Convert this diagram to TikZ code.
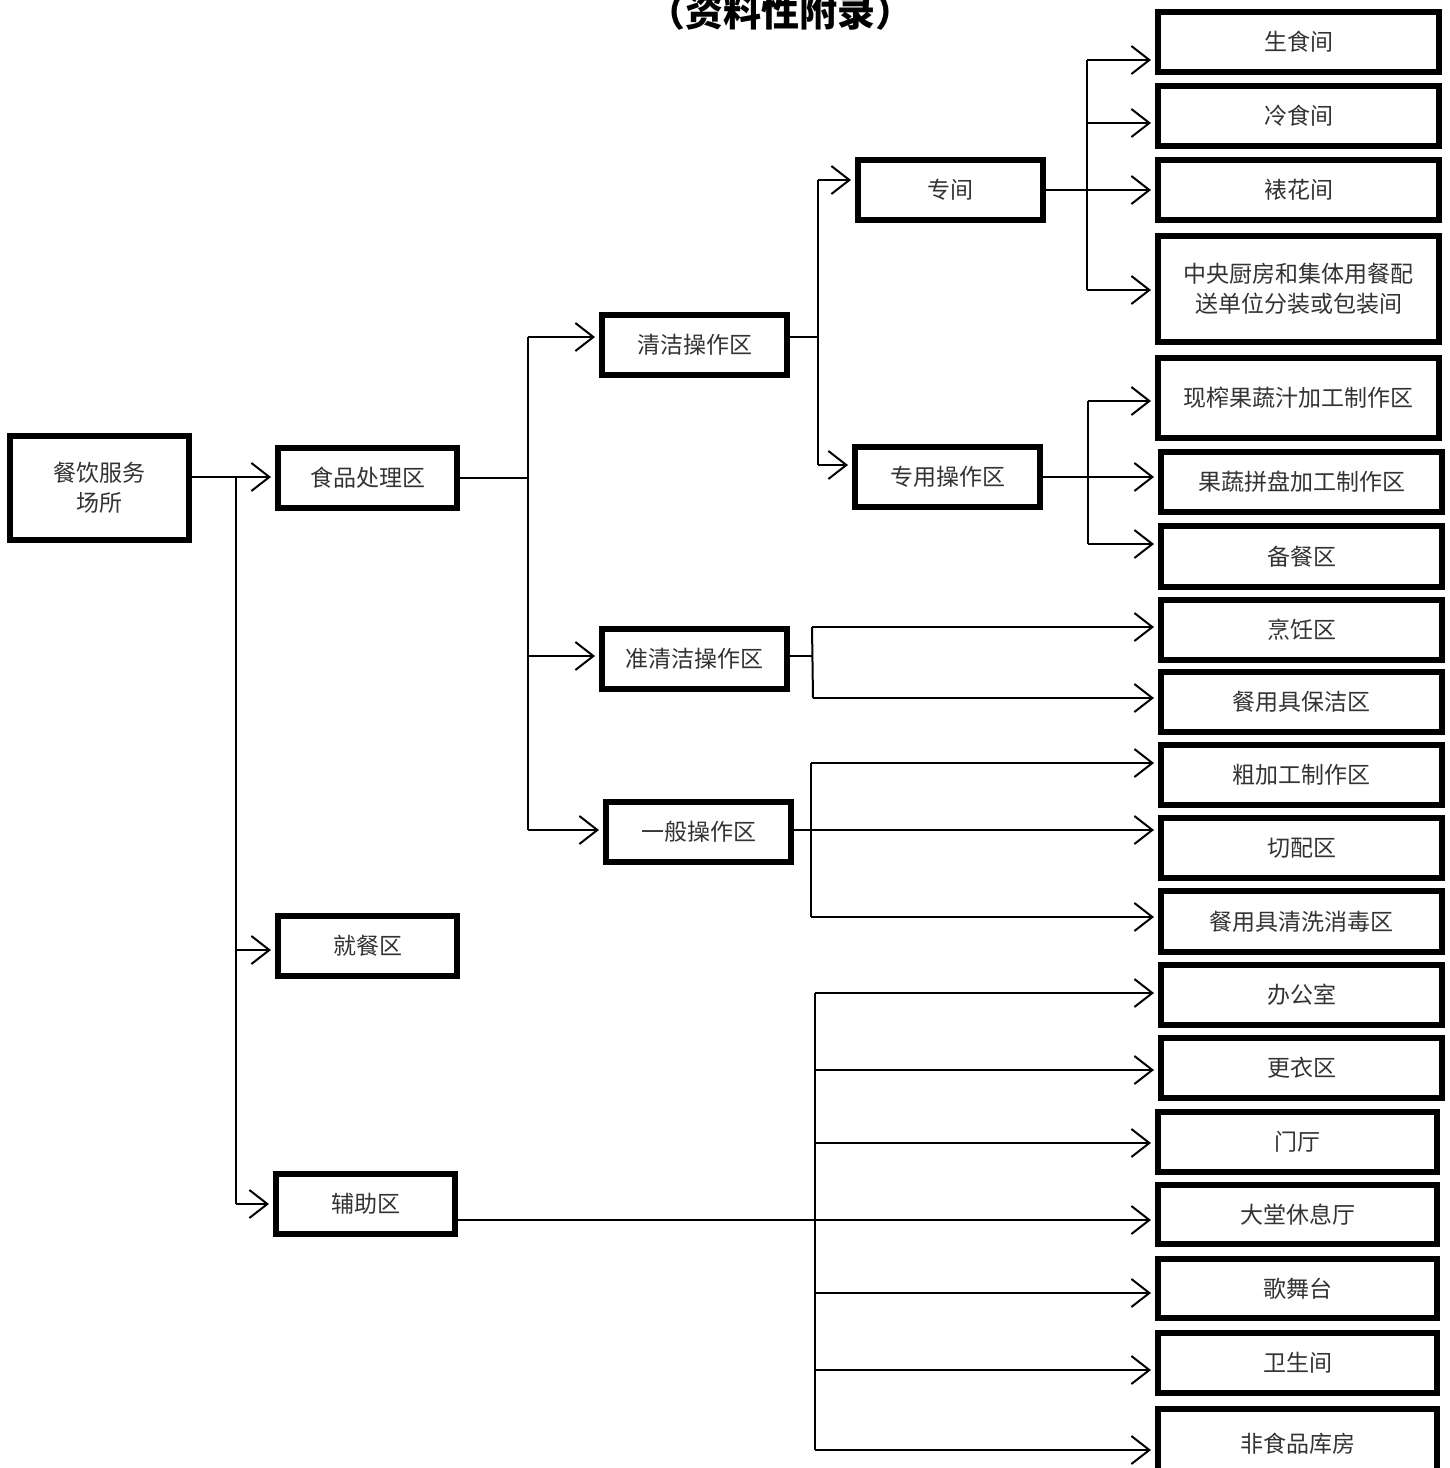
\documentclass[tikz,border=0pt]{standalone}
\usepackage{fontspec}
\newfontfamily\cjk{Noto Sans CJK SC}
\usetikzlibrary{arrows.meta}
\tikzset{
  box/.style={draw=black, line width=3pt, inner sep=0pt, align=center, text=black!80, font=\cjk\fontsize{11.5}{15}\selectfont},
  conn/.style={line width=1pt, draw=black},
  arr/.style={conn, -{Straight Barb[length=9pt,width=14pt,line width=1pt]}, shorten >=2pt}
}
\newcommand\mybox[6]{\node[box, minimum width={(#4-#2-6)*0.5pt}, minimum height={(#5-#3-6)*0.5pt}] (#1) at ({(#2+#4)/2},{(#3+#5)/2}) {#6};}
\begin{document}
\begin{tikzpicture}[x=0.5pt,y=-0.5pt]
\useasboundingbox (0,0) rectangle (1450,1468);
\fill[white] (0,0) rectangle (1450,1468);
\node[font=\cjk\bfseries\fontsize{19}{22}\selectfont, inner sep=0pt] (title) at (780,12) {（资料性附录）};
\mybox{can}{7}{433}{192}{543}{餐饮服务\\场所}
\mybox{shipin}{275}{445}{460}{511}{食品处理区}
\mybox{jiucan}{275}{913}{460}{979}{就餐区}
\mybox{fuzhu}{273}{1171}{458}{1237}{辅助区}
\mybox{qingjie}{599}{312}{790}{378}{清洁操作区}
\mybox{zhun}{599}{626}{790}{692}{准清洁操作区}
\mybox{yiban}{603}{799}{794}{865}{一般操作区}
\mybox{zhuanjian}{855}{157}{1046}{223}{专间}
\mybox{zhuanyong}{852}{444}{1043}{510}{专用操作区}
\mybox{r1}{1155}{9}{1442}{75}{生食间}
\mybox{r2}{1155}{83}{1442}{149}{冷食间}
\mybox{r3}{1155}{157}{1442}{223}{裱花间}
\mybox{r4}{1155}{233}{1442}{345}{中央厨房和集体用餐配\\送单位分装或包装间}
\mybox{r5}{1155}{355}{1442}{441}{现榨果蔬汁加工制作区}
\mybox{r6}{1158}{449}{1445}{515}{果蔬拼盘加工制作区}
\mybox{r7}{1158}{523}{1445}{590}{备餐区}
\mybox{r8}{1158}{597}{1445}{663}{烹饪区}
\mybox{r9}{1158}{669}{1445}{735}{餐用具保洁区}
\mybox{r10}{1158}{742}{1445}{808}{粗加工制作区}
\mybox{r11}{1158}{815}{1445}{881}{切配区}
\mybox{r12}{1158}{888}{1445}{955}{餐用具清洗消毒区}
\mybox{r13}{1158}{962}{1445}{1028}{办公室}
\mybox{r14}{1158}{1035}{1445}{1101}{更衣区}
\mybox{r15}{1155}{1109}{1440}{1175}{门厅}
\mybox{r16}{1155}{1182}{1440}{1247}{大堂休息厅}
\mybox{r17}{1155}{1256}{1440}{1321}{歌舞台}
\mybox{r18}{1155}{1330}{1440}{1396}{卫生间}
\mybox{r19}{1155}{1406}{1440}{1482}{非食品库房}
% level 0
\draw[arr] (192,477 -| can.east) -- (192,477 -| shipin.west);
\draw[conn] (236,477) -- (236,1204);
\draw[arr] (236,950) -- (236,950 -| jiucan.west);
\draw[arr] (236,1204) -- (236,1204 -| fuzhu.west);
% level 1
\draw[conn] (shipin.east) -- (shipin.east -| 528,0);
\draw[conn] (528,337) -- (528,830);
\draw[arr] (528,337) -- (528,337 -| qingjie.west);
\draw[arr] (528,656) -- (528,656 -| zhun.west);
\draw[arr] (528,830) -- (528,830 -| yiban.west);
% qingjie
\draw[conn] (790,337 -| qingjie.east) -- (818,337);
\draw[conn] (818,180) -- (818,465);
\draw[arr] (818,180) -- (818,180 -| zhuanjian.west);
\draw[arr] (818,465) -- (818,465 -| zhuanyong.west);
% zhuanjian
\draw[arr] (zhuanjian.east) -- (zhuanjian.east -| r3.west);
\draw[conn] (1087,60) -- (1087,290);
\draw[arr] (1087,60) -- (1087,60 -| r1.west);
\draw[arr] (1087,123) -- (1087,123 -| r2.west);
\draw[arr] (1087,290) -- (1087,290 -| r4.west);
% zhuanyong
\draw[arr] (zhuanyong.east) -- (zhuanyong.east -| r6.west);
\draw[conn] (1088,401) -- (1088,544);
\draw[arr] (1088,401) -- (1088,401 -| r5.west);
\draw[arr] (1088,544) -- (1088,544 -| r7.west);
% zhun
\draw[conn] (790,656 -| zhun.east) -- (812,656);
\draw[conn] (812,627) -- (813,698);
\draw[arr] (812,627) -- (812,627 -| r8.west);
\draw[arr] (813,698) -- (813,698 -| r9.west);
% yiban
\draw[arr] (794,830 -| yiban.east) -- (794,830 -| r11.west);
\draw[conn] (811,763) -- (811,917);
\draw[arr] (811,763) -- (811,763 -| r10.west);
\draw[arr] (811,917) -- (811,917 -| r12.west);
% fuzhu
\draw[arr] (458,1220 -| fuzhu.east) -- (458,1220 -| r16.west);
\draw[conn] (815,993) -- (815,1450);
\draw[arr] (815,993) -- (815,993 -| r13.west);
\draw[arr] (815,1070) -- (815,1070 -| r14.west);
\draw[arr] (815,1143) -- (815,1143 -| r15.west);
\draw[arr] (815,1293) -- (815,1293 -| r17.west);
\draw[arr] (815,1370) -- (815,1370 -| r18.west);
\draw[arr] (815,1450) -- (815,1450 -| r19.west);
\end{tikzpicture}
\end{document}
